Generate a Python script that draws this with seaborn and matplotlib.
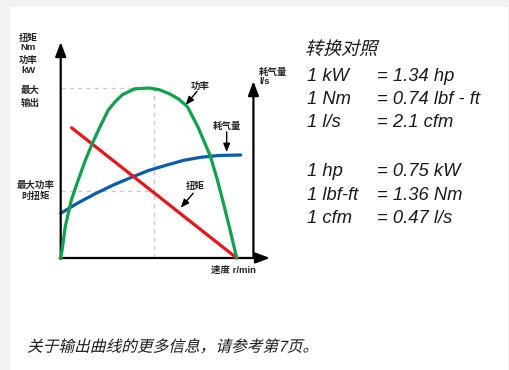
import numpy as np
import matplotlib
matplotlib.use('Agg')
import matplotlib.pyplot as plt
import seaborn as sns
from matplotlib.patches import Rectangle
from matplotlib.patheffects import AbstractPathEffect
from matplotlib.transforms import Affine2D

# data (speed in % of free speed, values in % of max power)
power_speed = [0, 1, 2.5, 6, 10, 14, 18, 22, 27, 31, 35, 42, 50, 56, 62, 67, 72, 78, 85, 89, 92.5, 96, 100]
power = [0, 6, 18, 34, 46, 57.5, 67.5, 76.5, 87, 92, 96, 99.5, 100, 99, 96.5, 93.5, 89, 77, 60, 46, 32, 17.5, 0]
torque_speed = [6.2, 100]
torque = [76.6, 0]
air_speed = [0, 10, 20, 30, 41, 50, 60, 70, 80, 90, 102.3]
air = [26.3, 32.5, 38, 43, 47.8, 51.5, 54.6, 57.5, 59.3, 60.3, 60.6]
peak_speed = 53
peak_power = 100
torque_at_peak = 39.6

left_labels = ['扭矩', 'Nm', '功率', 'kW', '最大', '输出']
conv_left = ['1 kW', '1 Nm', '1 l/s', '1 hp', '1 lbf-ft', '1 cfm']
conv_right = ['= 1.34 hp', '= 0.74 lbf - ft', '= 2.1 cfm', '= 0.75 kW', '= 1.36 Nm', '= 0.47 l/s']


class Slant(AbstractPathEffect):
    # fake italic for CJK glyphs (no italic face installed)
    def __init__(self, deg=12):
        super().__init__()
        self.deg = deg

    def draw_path(self, renderer, gc, tpath, affine, rgbFace=None):
        skew = Affine2D().skew_deg(self.deg, 0)
        renderer.draw_path(gc, tpath, skew + affine, rgbFace)


sns.set_style('white')
plt.rcParams['font.family'] = ['Liberation Sans', 'Noto Sans CJK SC']

W, H = 509, 370
fig = plt.figure(figsize=(W / 100, H / 100), dpi=100)
fig.patch.set_facecolor('#f1f2f1')
fig.add_artist(Rectangle((10 / W, 0), 498 / W, 363 / H, transform=fig.transFigure,
                         facecolor='white', edgecolor='none', zorder=0))


def px(x, y):
    return x / W, 1 - y / H


ax = fig.add_axes([60.7 / W, 112 / H, 211.2 / W, 217.6 / H])
ax.set_xlim(0, 120)
ax.set_ylim(0, 128)
ax.set_axis_off()

# guide lines
dash = dict(color='#c9c9c9', lw=1, ls=(0, (3, 3)), zorder=1)
ax.plot([0, peak_speed], [peak_power, peak_power], **dash)
ax.plot([peak_speed, peak_speed], [0, peak_power], **dash)
ax.plot([0, peak_speed], [torque_at_peak, torque_at_peak], **dash)

sns.lineplot(x=air_speed, y=air, ax=ax, color='#0b5cab', linewidth=2.3, zorder=3)
sns.lineplot(x=torque_speed, y=torque, ax=ax, color='#e8141c', linewidth=2.3, zorder=4)
sns.lineplot(x=power_speed, y=power, ax=ax, color='#0fa14d', linewidth=2.3, zorder=5)
for l in ax.lines:
    l.set_solid_joinstyle('round')
    l.set_clip_on(False)

# axes with arrow heads
big = dict(arrowstyle='-|>,head_length=0.85,head_width=0.32', color='black', lw=1.6,
           shrinkA=0, shrinkB=0)
ax.annotate('', xy=(0, 127), xytext=(0, -0.5), arrowprops=big)
ax.annotate('', xy=(118.9, 0), xytext=(-0.5, 0), arrowprops=big)
ax.annotate('', xy=(109.5, 104), xytext=(109.5, 0), arrowprops=big)

small = dict(arrowstyle='-|>,head_length=0.5,head_width=0.2', color='black', lw=1,
             shrinkA=0, shrinkB=0)
lab = dict(fontsize=6.8, fontweight='bold', ha='center', va='center')
ax.text(79.1, 101.2, '功率', **lab)
ax.annotate('', xy=(71, 90), xytext=(77.4, 98), arrowprops=small)
ax.text(94.4, 77.6, '耗气量', **lab)
ax.annotate('', xy=(94.3, 62.3), xytext=(94.3, 74.2), arrowprops=small)
ax.text(76.3, 41.9, '扭矩', **lab)
ax.annotate('', xy=(68.2, 29.6), xytext=(75.3, 38.1), arrowprops=small)
ax.text(98, -7, '速度 r/min', **lab)

# labels beside the axes
for t, (x, y) in zip(left_labels, [(28, 38.7), (28, 47.7), (28, 60.7), (28, 70.3), (30.5, 90.8), (30.5, 103.7)]):
    fig.text(*px(x, y), t, **lab)
fig.text(*px(35.7, 185), '最大功率', **lab)
fig.text(*px(35.7, 196), '时扭矩', **lab)
fig.text(*px(259, 72), '耗气量', fontsize=6.8, fontweight='bold', ha='left', va='center')
fig.text(*px(259, 81.7), 'l/s', fontsize=6.8, fontweight='bold', ha='left', va='center')

# conversion table
fig.text(*px(305, 50), '转换对照', fontsize=13, ha='left', va='center', color='#1a1a1a',
         path_effects=[Slant(14)])
baselines = [80.7, 104, 126.7, 176, 200, 222.7]
for a, b, y in zip(conv_left, conv_right, baselines):
    fig.text(*px(307, y), a, fontsize=13.2, style='italic', ha='left', va='baseline', color='#1a1a1a')
    fig.text(*px(377, y), b, fontsize=13.2, style='italic', ha='left', va='baseline', color='#1a1a1a')

fig.text(*px(27, 347), '关于输出曲线的更多信息，请参考第7页。', fontsize=11.3, ha='left', va='center',
         color='#1a1a1a', path_effects=[Slant(14)])

plt.savefig('out.png', dpi=100)
